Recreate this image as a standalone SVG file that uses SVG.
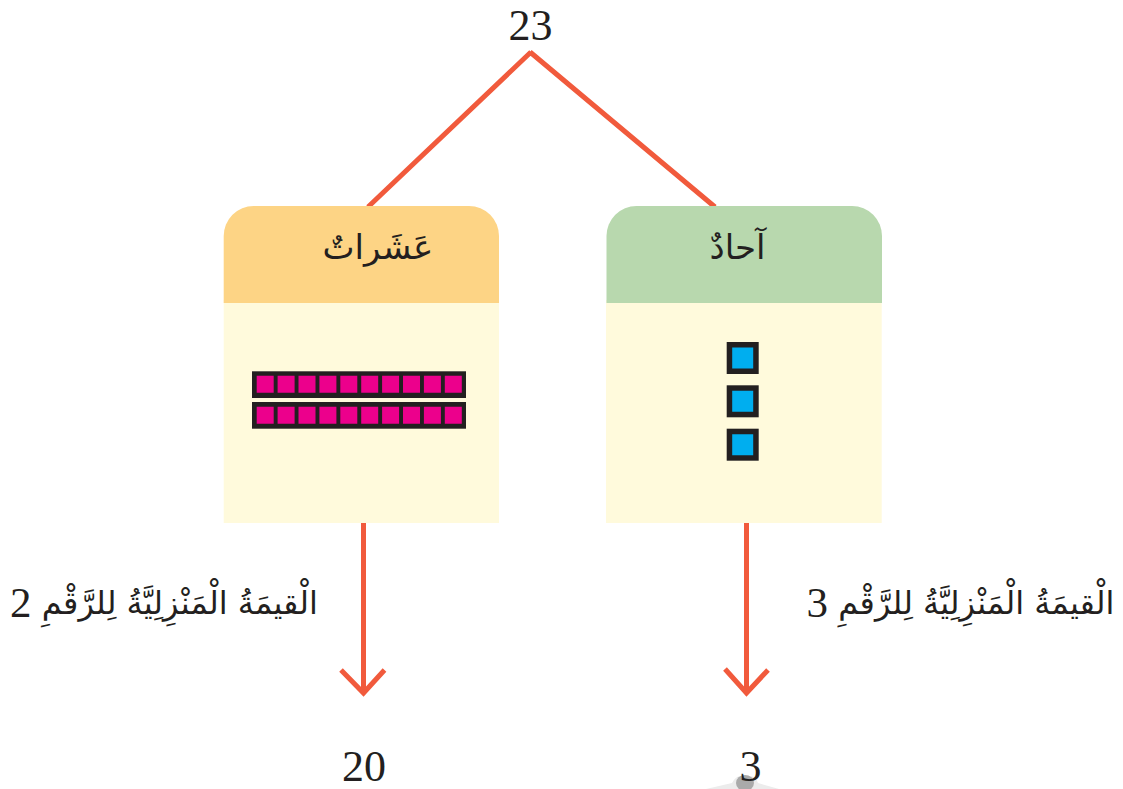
<svg xmlns="http://www.w3.org/2000/svg" width="1123" height="789" viewBox="0 0 1123 789">
<style>
.n{font-family:"Liberation Serif","DejaVu Serif",serif;font-size:44px;fill:#231f20;text-anchor:middle}
.a{font-family:"DejaVu Sans","Noto Sans",sans-serif;fill:#231f20;text-anchor:middle;direction:rtl}
.d{font-family:"Liberation Serif","DejaVu Serif",serif;font-size:43px}
.l{fill:none;stroke:#f15a3c;stroke-width:5}
.o{fill:#231f20}
.p{fill:#ec008c}
.b{fill:#00aeef}
.body{fill:#fffadc}
</style>
<rect width="1123" height="789" fill="#fff"/>
<g id="connectors">
<path class="l" d="M531 52 368 207M530 52 715 207"/>
<path class="l" d="M363.500 523V692M341 670l22.500 23 21-23"/>
<path class="l" d="M746.500 523V692M725 669l21.500 24 21.500-23"/>
</g>
<g id="root"><text class="n" x="530.500" y="40">23</text></g>
<g id="tens">
<rect class="body" x="223.700" y="300" width="275.300" height="223"/>
<path d="M223.700 303V236a30 30 0 0 1 30-30H469a30 30 0 0 1 30 30V303Z" fill="#fdd485"/>
<text class="a" x="378" y="259" font-size="34">عَشَراتٌ</text>
<rect class="o" x="252" y="371.300" width="214" height="26.700"/>
<rect class="o" x="252" y="402" width="214" height="26.700"/>
<path class="p" d="M256.700 375.700h17v17h-17zM277.600 375.700h17v17h-17zM298.500 375.700h17v17h-17zM319.400 375.700h17v17h-17zM340.300 375.700h17v17h-17zM361.200 375.700h17v17h-17zM382.100 375.700h17v17h-17zM403 375.700h17v17h-17zM423.900 375.700h17v17h-17zM444.800 375.700h17v17h-17zM256.700 406.700h17v17h-17zM277.600 406.700h17v17h-17zM298.500 406.700h17v17h-17zM319.400 406.700h17v17h-17zM340.300 406.700h17v17h-17zM361.200 406.700h17v17h-17zM382.100 406.700h17v17h-17zM403 406.700h17v17h-17zM423.900 406.700h17v17h-17zM444.800 406.700h17v17h-17z"/>
</g>
<g id="ones">
<rect class="body" x="606" y="300" width="275.700" height="223"/>
<path d="M606.500 303V236a30 30 0 0 1 30-30H852a30 30 0 0 1 30 30V303Z" fill="#b8d8ae"/>
<text class="a" x="737.500" y="259" font-size="34">آحادٌ</text>
<rect class="o" x="726.700" y="342" width="32" height="32"/>
<rect class="o" x="726.700" y="385.300" width="32" height="32"/>
<rect class="o" x="726.700" y="428.700" width="32" height="32"/>
<path class="b" d="M732.200 347.500h21v21h-21zM732.200 390.800h21v21h-21zM732.200 434.200h21v21h-21z"/>
</g>
<g id="label-tens"><text class="a" x="164" y="614" font-size="32">الْقيمَةُ الْمَنْزِلِيَّةُ لِلرَّقْمِ <tspan class="d" dy="3">2</tspan></text></g>
<g id="label-ones"><text class="a" x="960.500" y="614" font-size="32">الْقيمَةُ الْمَنْزِلِيَّةُ لِلرَّقْمِ <tspan class="d" dy="3">3</tspan></text></g>
<g id="value-tens"><text class="n" x="364" y="781">20</text></g>
<g id="value-ones">
<path d="M706 789l26-6q3-6 8-7h11q5 1 7 7l21 6Z" fill="#ececec"/>
<ellipse cx="745" cy="783" rx="9" ry="8" fill="#aaa"/>
<text class="n" x="750.500" y="781">3</text>
</g>
</svg>
